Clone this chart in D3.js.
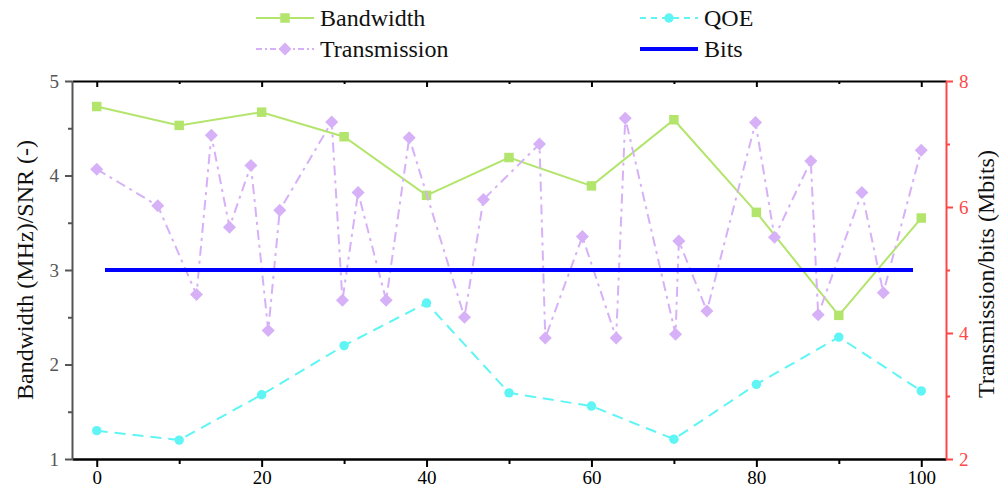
<!DOCTYPE html>
<html>
<head>
<meta charset="utf-8">
<script src="https://cdn.jsdelivr.net/npm/d3@7"></script>
<style>
body { margin: 0; background: #fff; }
svg text { font-family: "Liberation Serif", "Times New Roman", Times, "DejaVu Serif", serif !important; }
</style>
</head>
<body>
<div id="chart"></div>
<script>
// sample points shared by Bandwidth and QOE
const sampleX = [0, 10, 20, 30, 40, 50, 60, 70, 80, 90, 100];
const bandwidth = [4.73, 4.53, 4.67, 4.41, 3.79, 4.19, 3.89, 4.59, 3.61, 2.52, 3.55];
const qoe = [1.30, 1.20, 1.68, 2.20, 2.65, 1.70, 1.56, 1.21, 1.79, 2.29, 1.72];

// Transmission (right axis, Mbits)
const transX = [0, 7.4, 12.1, 13.9, 16.1, 18.7, 20.8, 22.2, 28.5, 29.8, 31.7, 35.1, 37.9, 44.6, 46.9,
    53.7, 54.4, 58.9, 63.0, 64.1, 70.2, 70.6, 74.0, 79.9, 82.2, 86.6, 87.5, 92.8, 95.4, 100];
const transY = [6.60, 6.02, 4.61, 7.14, 5.68, 6.66, 4.04, 5.95, 7.35, 4.52, 6.23, 4.52, 7.10, 4.25, 6.12,
    7.00, 3.92, 5.53, 3.92, 7.41, 3.98, 5.46, 4.35, 7.34, 5.52, 6.73, 4.29, 6.23, 4.64, 6.90];

// Bits (right axis, Mbits)
const bitsX = [1, 99];
const bitsY = [5, 5];

const xMajor = [0, 20, 40, 60, 80, 100];
const xMinor = [10, 30, 50, 70, 90];
const leftMajor = [1, 2, 3, 4, 5];
const leftMinor = [1.5, 2.5, 3.5, 4.5];
const rightMajor = [2, 4, 6, 8];
const rightMinor = [3, 5, 7];

const width = 1003,
    height = 495,
    margin = { top: 81, right: 57, bottom: 36, left: 72 };

const cGreen = "#b3e56d",
    cCyan = "#5ff5f5",
    cPurple = "#d7b1f7",
    cBlue = "#0000ff",
    cRed = "#ff4747";

const svg = d3.select("#chart")
    .append("svg")
    .attr("width", width)
    .attr("height", height);

const x = d3.scaleLinear().domain([-3, 103]).range([margin.left, width - margin.right]);
const yL = d3.scaleLinear().domain([1, 5]).range([height - margin.bottom, margin.top]);
const yR = d3.scaleLinear().domain([2, 8]).range([height - margin.bottom, margin.top]);

// axes
function styleAxis(g, color, w) {
    g.selectAll("path.domain").attr("stroke", color).attr("stroke-width", w);
    g.selectAll(".tick line").attr("stroke", color).attr("stroke-width", 2);
    g.selectAll(".tick text").attr("fill", color).attr("font-size", 19);
}

// bottom
const gxMinor = svg.append("g")
    .attr("transform", `translate(0,${height - margin.bottom})`)
    .call(d3.axisBottom(x).tickValues(xMinor).tickSize(5).tickFormat(""));
gxMinor.select("path.domain").remove();
gxMinor.selectAll(".tick line").attr("stroke", "#000").attr("stroke-width", 2);

const gx = svg.append("g")
    .attr("transform", `translate(0,${height - margin.bottom})`)
    .call(d3.axisBottom(x).tickValues(xMajor).tickSize(8).tickSizeOuter(0).tickPadding(4));
styleAxis(gx, "#000", 2.5);

// top (ticks pointing inward)
const gtMinor = svg.append("g")
    .attr("transform", `translate(0,${margin.top})`)
    .call(d3.axisBottom(x).tickValues(xMinor).tickSize(3).tickFormat(""));
gtMinor.select("path.domain").remove();
gtMinor.selectAll(".tick line").attr("stroke", "#000").attr("stroke-width", 2);
const gt = svg.append("g")
    .attr("transform", `translate(0,${margin.top})`)
    .call(d3.axisBottom(x).tickValues(xMajor).tickSize(6).tickSizeOuter(0).tickFormat(""));
styleAxis(gt, "#000", 2);

// left
const gyMinor = svg.append("g")
    .attr("transform", `translate(${margin.left},0)`)
    .call(d3.axisLeft(yL).tickValues(leftMinor).tickSize(4).tickFormat(""));
gyMinor.select("path.domain").remove();
gyMinor.selectAll(".tick line").attr("stroke", "#555").attr("stroke-width", 2);
const gy = svg.append("g")
    .attr("transform", `translate(${margin.left},0)`)
    .call(d3.axisLeft(yL).tickValues(leftMajor).tickSize(7).tickSizeOuter(0).tickPadding(6).tickFormat(d3.format("d")));
styleAxis(gy, "#555", 2);

// right
const grMinor = svg.append("g")
    .attr("transform", `translate(${width - margin.right},0)`)
    .call(d3.axisRight(yR).tickValues(rightMinor).tickSize(4).tickFormat(""));
grMinor.select("path.domain").remove();
grMinor.selectAll(".tick line").attr("stroke", cRed).attr("stroke-width", 2);
const gr = svg.append("g")
    .attr("transform", `translate(${width - margin.right},0)`)
    .call(d3.axisRight(yR).tickValues(rightMajor).tickSize(7).tickSizeOuter(0).tickPadding(6).tickFormat(d3.format("d")));
styleAxis(gr, cRed, 2);

// axis titles
svg.append("text")
    .attr("transform", `translate(27,${(margin.top + height - margin.bottom) / 2}) rotate(-90)`)
    .attr("text-anchor", "middle")
    .attr("dominant-baseline", "middle")
    .attr("font-size", 24)
    .attr("fill", "#111")
    .text("Bandwidth (MHz)/SNR (-)");

svg.append("text")
    .attr("transform", `translate(988,${(margin.top + height - margin.bottom) / 2 + 4}) rotate(-90)`)
    .attr("text-anchor", "middle")
    .attr("dominant-baseline", "middle")
    .attr("font-size", 24)
    .attr("fill", "#111")
    .text("Transmission/bits (Mbits)");

// series
const plot = svg.append("g");

const bwData = sampleX.map((d, i) => [d, bandwidth[i]]);
const qoeData = sampleX.map((d, i) => [d, qoe[i]]);
const trData = transX.map((d, i) => [d, transY[i]]);
const bitsData = bitsX.map((d, i) => [d, bitsY[i]]);

const lineL = d3.line().x((d) => x(d[0])).y((d) => yL(d[1]));
const lineR = d3.line().x((d) => x(d[0])).y((d) => yR(d[1]));

const square = d3.symbol().type(d3.symbolSquare).size(90);
const circle = d3.symbol().type(d3.symbolCircle).size(70);
const diamond = d3.symbol().type(d3.symbolSquare).size(85);

// Bandwidth
plot.append("path")
    .attr("d", lineL(bwData))
    .attr("fill", "none")
    .attr("stroke", cGreen)
    .attr("stroke-width", 2);
plot.append("g").selectAll("path")
    .data(bwData)
    .join("path")
    .attr("d", square)
    .attr("transform", (d) => `translate(${x(d[0])},${yL(d[1])})`)
    .attr("fill", cGreen);

// QOE
plot.append("path")
    .attr("d", lineL(qoeData))
    .attr("fill", "none")
    .attr("stroke", cCyan)
    .attr("stroke-width", 2)
    .attr("stroke-dasharray", "11,7");
plot.append("g").selectAll("path")
    .data(qoeData)
    .join("path")
    .attr("d", circle)
    .attr("transform", (d) => `translate(${x(d[0])},${yL(d[1])})`)
    .attr("fill", cCyan);

// Transmission
plot.append("path")
    .attr("d", lineR(trData))
    .attr("fill", "none")
    .attr("stroke", cPurple)
    .attr("stroke-width", 2)
    .attr("stroke-dasharray", "10,5,3,5");
plot.append("g").selectAll("path")
    .data(trData)
    .join("path")
    .attr("d", diamond)
    .attr("transform", (d) => `translate(${x(d[0])},${yR(d[1])}) rotate(45)`)
    .attr("fill", cPurple);

// Bits
plot.append("path")
    .attr("d", lineR(bitsData))
    .attr("fill", "none")
    .attr("stroke", cBlue)
    .attr("stroke-width", 4);

// legend
const legendItems = [
    { name: "Bandwidth", color: cGreen, dash: null, sym: square, rot: 0, w: 2, x: 256, y: 18 },
    { name: "QOE", color: cCyan, dash: "6,5", sym: circle, rot: 0, w: 2, x: 640, y: 18 },
    { name: "Transmission", color: cPurple, dash: "6,3,2,3", sym: diamond, rot: 45, w: 2, x: 256, y: 49 },
    { name: "Bits", color: cBlue, dash: null, sym: null, rot: 0, w: 4, x: 640, y: 49 }
];

const lg = svg.append("g").selectAll("g")
    .data(legendItems)
    .join("g")
    .attr("transform", (d) => `translate(${d.x},${d.y})`);

lg.append("line")
    .attr("x1", 0)
    .attr("x2", 58)
    .attr("stroke", (d) => d.color)
    .attr("stroke-width", (d) => d.w)
    .attr("stroke-dasharray", (d) => d.dash);

lg.filter((d) => d.sym)
    .append("path")
    .attr("d", (d) => d.sym())
    .attr("transform", (d) => `translate(29,0) rotate(${d.rot})`)
    .attr("fill", (d) => d.color);

lg.append("text")
    .attr("x", 64)
    .attr("dy", "0.35em")
    .attr("font-size", 24)
    .attr("fill", "#111")
    .text((d) => d.name);
</script>
</body>
</html>
